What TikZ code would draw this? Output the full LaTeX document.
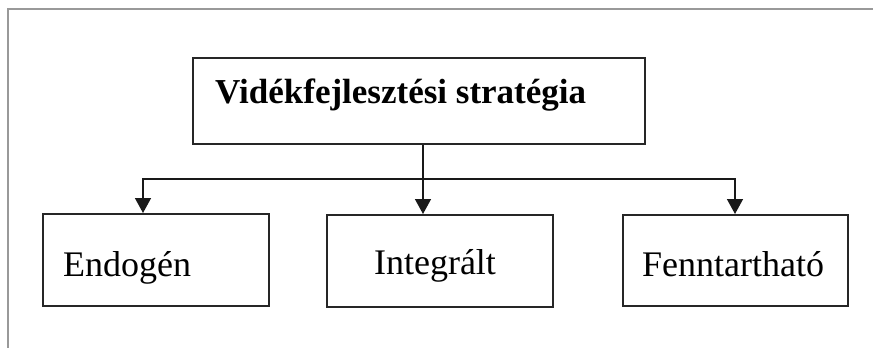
\documentclass[tikz,border=0pt]{standalone}
\usepackage{fontspec}
\setmainfont{Liberation Serif}
\usetikzlibrary{arrows.meta}
\begin{document}
\begin{tikzpicture}[x=1pt,y=-1pt,
  boxst/.style={draw=black!85,line width=1.6pt,inner sep=0pt,anchor=north west},
  lbl/.style={inner sep=0pt,font=\fontsize{36}{40}\selectfont},
  title/.style={inner sep=0pt,font=\fontsize{35}{40}\selectfont\bfseries},
  conn/.style={draw=black!90,line width=1.5pt},
  arr/.style={conn,-{Triangle[length=15pt,width=16pt]}}]
\useasboundingbox (0,0) rectangle (873,348);
% outer frame
\draw[draw=black!40,line width=2pt] (8,348) -- (8,8.5) -- (873,8.5);
% boxes
\node[boxst,minimum width=452pt,minimum height=86pt] (top) at (192,57) {};
\node[boxst,minimum width=226pt,minimum height=92pt] (endo) at (42,213) {};
\node[boxst,minimum width=226pt,minimum height=92pt] (integ) at (326,214) {};
\node[boxst,minimum width=225pt,minimum height=91pt] (fenn) at (622,214) {};
% texts
\node[title,anchor=base west] (ttop) at (215,103) {Vidékfejlesztési stratégia};
\node[lbl,anchor=base west] (tendo) at (63,276) {Endogén};
\node[lbl,anchor=base] (tinteg) at (435,274) {Integrált};
\node[lbl,anchor=base] (tfenn) at (733,276) {Fenntartható};
% connectors
\coordinate (j) at (423,179);
\coordinate (ea) at (143,213);
\coordinate (ia) at (423,214);
\coordinate (fa) at (735,214);
\draw[conn] (top.south -| j) -- (j);
\draw[arr] (j) -| (ea);
\draw[arr] (j) -- (ia);
\draw[arr] (j) -| (fa);
\end{tikzpicture}
\end{document}
